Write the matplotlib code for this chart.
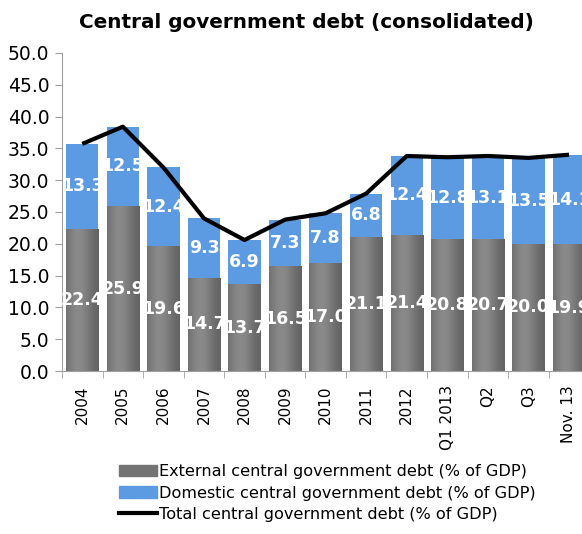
import matplotlib
matplotlib.use("Agg")
import matplotlib.pyplot as plt
import numpy as np
from matplotlib.patches import Patch
from matplotlib.lines import Line2D

categories = ["2004", "2005", "2006", "2007", "2008", "2009", "2010", "2011",
              "2012", "Q1 2013", "Q2", "Q3", "Nov. 13"]
external = [22.4, 25.9, 19.6, 14.7, 13.7, 16.5, 17.0, 21.1, 21.4, 20.8, 20.7, 20.0, 19.9]
domestic = [13.3, 12.5, 12.4, 9.3, 6.9, 7.3, 7.8, 6.8, 12.4, 12.8, 13.1, 13.5, 14.1]
total = [35.7, 38.4, 32.0, 24.0, 20.6, 23.8, 24.8, 27.9, 33.8, 33.6, 33.8, 33.5, 34.0]

fig = plt.figure(figsize=(5.82, 5.34), dpi=100)
ax = fig.add_axes([0.1065, 0.305, 0.906, 0.596])

x = np.arange(len(categories))
w = 0.8
grey_bars = ax.bar(x, external, w, color="#7f7f7f", zorder=2)
blue_bars = ax.bar(x, domestic, w, bottom=external, color="#5c9be1", zorder=2)

# horizontal gradient on the grey bars
grad = np.linspace(0, 1, 64)
shade = 0.37 + 0.17 * np.exp(-((grad - 0.38) / 0.42) ** 2)
img = np.dstack([shade, shade, shade]).repeat(2, axis=0)
for p in grey_bars:
    x0, y0 = p.get_x(), p.get_y()
    im = ax.imshow(img, extent=[x0, x0 + p.get_width(), y0, y0 + p.get_height()],
                   aspect="auto", zorder=2.1, interpolation="bilinear")
    im.set_clip_path(p)

for i in range(len(categories)):
    ax.text(x[i], external[i] / 2, f"{external[i]:.1f}", color="white",
            fontsize=12.5, fontweight="bold", ha="center", va="center", zorder=3)
    ax.text(x[i], external[i] + domestic[i] / 2, f"{domestic[i]:.1f}", color="white",
            fontsize=12.5, fontweight="bold", ha="center", va="center", zorder=3)

ax.plot(x, total, color="black", lw=3, zorder=4, solid_capstyle="butt")

ax.set_xlim(-0.5, len(categories) - 0.5)
ax.set_ylim(0, 50)
ax.set_yticks(np.arange(0, 50.1, 5))
ax.set_yticklabels([f"{v:.1f}" for v in np.arange(0, 50.1, 5)], fontsize=13.5)
ax.set_xticks(x)
ax.set_xticklabels(categories, rotation=90, fontsize=11)
ax.set_xticks(np.arange(-0.5, len(categories), 1), minor=True)
ax.tick_params(axis="x", which="major", length=0, pad=10)
ax.tick_params(axis="x", which="minor", length=5, color="#a0a0a0")
ax.tick_params(axis="y", length=5, color="#a0a0a0", pad=4)
for s in ["top", "right"]:
    ax.spines[s].set_visible(False)
for s in ["left", "bottom"]:
    ax.spines[s].set_color("#a0a0a0")

fig.text(0.526, 0.958, "Central government debt (consolidated)", ha="center",
         va="center", fontsize=14.4, fontweight="heavy")

handles = [Patch(color="#737373"), Patch(color="#5c9be1"),
           Line2D([0], [0], color="black", lw=3)]
labels = ["External central government debt (% of GDP)",
          "Domestic central government debt (% of GDP)",
          "Total central government debt (% of GDP)"]
fig.legend(handles, labels, loc="upper left", bbox_to_anchor=(0.193, 0.143),
           frameon=False, fontsize=11.6, handlelength=2.4, handletextpad=0.1,
           labelspacing=0.4, borderaxespad=0)

fig.savefig("out.png", dpi=100)
